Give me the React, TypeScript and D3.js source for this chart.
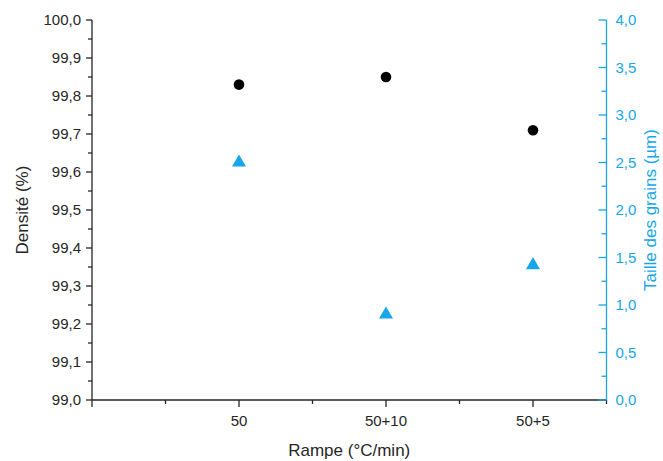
import React from "react";
import * as d3 from "d3";

const categories = ["50", "50+10", "50+5"];
const densite = [99.83, 99.85, 99.71];
const taille = [2.5, 0.9, 1.42];
const leftTicks = [99.0, 99.1, 99.2, 99.3, 99.4, 99.5, 99.6, 99.7, 99.8, 99.9, 100.0];
const rightTicks = [0, 0.5, 1.0, 1.5, 2.0, 2.5, 3.0, 3.5, 4.0];

const W = 663;
const H = 461;
const left = 92;
const right = 606.5;
const top = 20;
const bottom = 400;
const BLUE = "#16a6e9";
const INK = "#262626";
const FONT = "'Liberation Sans', Arial, sans-serif";

export default function App() {
  const x = d3.scaleLinear().domain([0, 3.5]).range([left, right]);
  const yL = d3.scaleLinear().domain([99, 100]).range([bottom, top]);
  const yR = d3.scaleLinear().domain([0, 4]).range([bottom, top]);
  const fmt = (v: number) => v.toFixed(1).replace(".", ",");
  const tri = d3.symbol().type(d3.symbolTriangle).size(85)();

  const leftMinor = d3.range(0, 10).map((i) => 99.05 + i * 0.1);
  const rightMinor = d3.range(0, 8).map((i) => 0.25 + i * 0.5);
  const xMinor = [0.5, 1.5, 2.5, 3.5];
  const xMajor = [0, 1, 2, 3];

  return (
    <svg width={W} height={H} style={{ position: "absolute", left: 0, top: 0, background: "#fff" }} fontFamily={FONT}>
      {/* x axis */}
      <line x1={left} x2={right} y1={bottom} y2={bottom} stroke={INK} strokeWidth={1.3} />
      {xMajor.map((v) => (
        <line key={"xm" + v} x1={x(v)} x2={x(v)} y1={bottom} y2={bottom + 7} stroke={INK} strokeWidth={1.3} />
      ))}
      {xMinor.map((v) => (
        <line key={"xn" + v} x1={x(v)} x2={x(v)} y1={bottom} y2={bottom + 4} stroke={INK} strokeWidth={1.3} />
      ))}
      {categories.map((c, i) => (
        <text key={c} x={x(i + 1)} y={bottom + 26} textAnchor="middle" fontSize={15} fill={INK}>{c}</text>
      ))}
      <text x={(left + right) / 2} y={456} textAnchor="middle" fontSize={17} fill={INK}>Rampe (°C/min)</text>

      {/* left axis */}
      <line x1={left} x2={left} y1={top} y2={bottom} stroke={INK} strokeWidth={1.3} />
      {leftTicks.map((v) => (
        <g key={"l" + v}>
          <line x1={left - 6} x2={left} y1={yL(v)} y2={yL(v)} stroke={INK} strokeWidth={1.3} />
          <text x={left - 11} y={yL(v) + 5} textAnchor="end" fontSize={15} fill={INK}>{fmt(v)}</text>
        </g>
      ))}
      {leftMinor.map((v) => (
        <line key={"lm" + v} x1={left - 4} x2={left} y1={yL(v)} y2={yL(v)} stroke={INK} strokeWidth={1.3} />
      ))}
      <text transform={`translate(28,${(top + bottom) / 2}) rotate(-90)`} textAnchor="middle" fontSize={17} fill={INK}>Densité (%)</text>

      {/* right axis */}
      <line x1={right} x2={right} y1={top} y2={bottom} stroke={BLUE} strokeWidth={1.3} />
      {rightTicks.map((v) => (
        <g key={"r" + v}>
          <line x1={right - 8} x2={right} y1={yR(v)} y2={yR(v)} stroke={BLUE} strokeWidth={1.3} />
          <text x={right + 9} y={yR(v) + 5} textAnchor="start" fontSize={15} fill={BLUE}>{fmt(v)}</text>
        </g>
      ))}
      {rightMinor.map((v) => (
        <line key={"rm" + v} x1={right - 5} x2={right} y1={yR(v)} y2={yR(v)} stroke={BLUE} strokeWidth={1.3} />
      ))}
      <text transform={`translate(656,${(top + bottom) / 2}) rotate(-90)`} textAnchor="middle" fontSize={17} fill={BLUE}>Taille des grains (µm)</text>

      {/* data */}
      {densite.map((v, i) => (
        <circle key={"d" + i} cx={x(i + 1)} cy={yL(v)} r={5.3} fill="#000" />
      ))}
      {taille.map((v, i) => (
        <path key={"t" + i} d={tri as string} transform={`translate(${x(i + 1)},${yR(v)})`} fill={BLUE} />
      ))}
    </svg>
  );
}
